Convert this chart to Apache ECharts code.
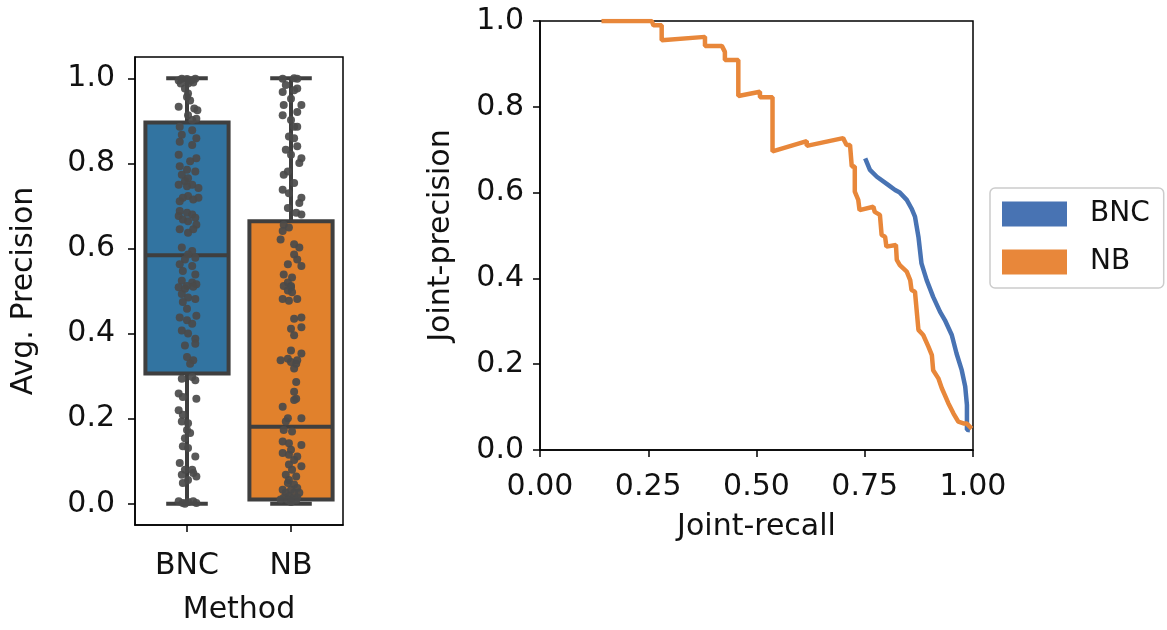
<!DOCTYPE html>
<html>
<head>
<meta charset="utf-8">
<title>BNC vs NB</title>
<script src="https://cdn.jsdelivr.net/npm/echarts@6/dist/echarts.min.js"></script>
<style>
  html, body { margin: 0; padding: 0; background: #fff; }
  #chart { width: 1167px; height: 630px; }
</style>
</head>
<body>
<div id="chart"></div>
<script>
// methods
const methods = ["BNC", "NB"];
const boxColors = ["#3274a1", "#e1812c"];
const lineColors = ["#4873b3", "#e8873a"];

// box summary per method: [min, q1, median, q3, max]
const boxStats = [
  [0.0, 0.306, 0.584, 0.896, 1.0],
  [0.0, 0.010, 0.181, 0.664, 1.0],
];

// strip points: [jitter, avg precision]
const bncPoints = [
  [-0.08, 0.995], [-0.05, 0.999], [0.0, 0.998], [0.04, 0.995], [0.08, 0.999],
  [-0.06, 0.988], [0.01, 0.988], [0.06, 0.99], [-0.02, 0.976], [0.01, 0.964],
  [0.0, 0.956], [0.03, 0.948], [-0.08, 0.933], [0.07, 0.929], [0.1, 0.925],
  [0.01, 0.913], [0.09, 0.905], [0.05, 0.902], [-0.07, 0.886], [0.05, 0.878],
  [-0.05, 0.867], [0.09, 0.859], [-0.07, 0.851], [0.05, 0.843], [-0.08, 0.82],
  [0.09, 0.812], [0.03, 0.805], [-0.07, 0.793], [0.0, 0.785], [-0.05, 0.773],
  [0.08, 0.781], [0.01, 0.765], [-0.02, 0.758], [-0.08, 0.75], [0.05, 0.75],
  [0.0, 0.746], [0.11, 0.742], [0.01, 0.723], [-0.04, 0.719], [0.06, 0.715],
  [-0.07, 0.711], [0.11, 0.719], [-0.07, 0.688], [0.0, 0.684], [-0.08, 0.676],
  [0.05, 0.68], [-0.04, 0.668], [0.08, 0.672], [0.01, 0.664], [0.09, 0.656],
  [-0.07, 0.645], [0.06, 0.645], [0.01, 0.637], [-0.05, 0.602], [0.05, 0.594],
  [0.01, 0.586], [-0.02, 0.574], [0.08, 0.578], [-0.07, 0.563], [0.05, 0.559],
  [-0.04, 0.547], [0.08, 0.539], [-0.05, 0.524], [0.05, 0.52], [0.0, 0.512],
  [0.09, 0.516], [-0.08, 0.509], [-0.02, 0.505], [0.06, 0.51], [-0.05, 0.493],
  [0.01, 0.485], [0.08, 0.481], [-0.04, 0.474], [0.0, 0.458], [0.09, 0.442],
  [-0.07, 0.438], [0.0, 0.431], [0.05, 0.423], [-0.05, 0.407], [0.01, 0.4],
  [0.08, 0.388], [-0.02, 0.372], [0.08, 0.376], [0.0, 0.345], [0.06, 0.337],
  [0.03, 0.329], [-0.05, 0.294], [0.05, 0.298], [0.08, 0.29], [-0.08, 0.259],
  [-0.04, 0.251], [0.09, 0.247], [-0.08, 0.22], [-0.04, 0.209], [-0.05, 0.193],
  [0.01, 0.189], [0.0, 0.173], [0.03, 0.166], [-0.02, 0.154], [-0.04, 0.135],
  [0.01, 0.131], [0.08, 0.111], [-0.07, 0.096], [-0.02, 0.08], [0.05, 0.08],
  [-0.05, 0.068], [0.06, 0.072], [0.09, 0.064], [0.01, 0.056], [-0.04, 0.049],
  [-0.08, 0.006], [-0.04, 0.002], [0.01, 0.004], [0.06, 0.006], [0.09, 0.002],
  [-0.02, 0.0],
];

const nbPoints = [
  [-0.08, 0.999], [0.03, 1.0], [0.06, 0.999], [-0.05, 0.984], [-0.08, 0.968],
  [0.03, 0.972], [0.06, 0.976], [0.0, 0.952], [-0.07, 0.937], [0.1, 0.937],
  [-0.08, 0.913], [0.06, 0.921], [0.0, 0.902], [0.03, 0.886], [0.06, 0.886],
  [-0.02, 0.863], [0.03, 0.859], [-0.05, 0.832], [0.06, 0.84], [0.0, 0.82],
  [0.1, 0.812], [0.08, 0.801], [-0.03, 0.781], [-0.07, 0.773], [0.03, 0.754],
  [-0.08, 0.738], [-0.02, 0.73], [0.1, 0.719], [0.08, 0.707], [-0.03, 0.695],
  [0.05, 0.684], [0.1, 0.68], [-0.07, 0.656], [-0.02, 0.649], [-0.08, 0.641],
  [-0.1, 0.621], [0.03, 0.61], [0.08, 0.602], [0.03, 0.586], [0.06, 0.574],
  [0.1, 0.559], [-0.03, 0.563], [-0.07, 0.539], [0.01, 0.532], [-0.03, 0.52],
  [0.0, 0.512], [-0.07, 0.512], [0.0, 0.509], [-0.03, 0.501], [0.01, 0.497],
  [-0.08, 0.481], [-0.02, 0.477], [0.06, 0.481], [0.03, 0.435], [0.1, 0.438],
  [0.0, 0.411], [0.1, 0.415], [0.03, 0.396], [0.0, 0.36], [0.1, 0.353],
  [-0.03, 0.341], [-0.1, 0.337], [0.0, 0.333], [0.05, 0.329], [0.06, 0.337],
  [0.03, 0.318], [0.05, 0.286], [0.03, 0.263], [0.05, 0.247], [0.03, 0.244],
  [-0.08, 0.228], [-0.03, 0.201], [-0.05, 0.193], [0.1, 0.201], [-0.07, 0.173],
  [0.01, 0.17], [-0.08, 0.146], [-0.02, 0.142], [0.1, 0.138], [0.0, 0.127],
  [-0.08, 0.119], [-0.02, 0.115], [0.06, 0.111], [0.03, 0.103], [-0.02, 0.092],
  [0.1, 0.088], [0.01, 0.08], [-0.05, 0.068], [0.05, 0.064], [-0.02, 0.056],
  [-0.03, 0.049], [0.03, 0.045], [0.06, 0.037], [-0.08, 0.033], [0.0, 0.033],
  [-0.05, 0.026], [0.03, 0.026], [0.08, 0.026], [-0.02, 0.018], [-0.07, 0.014],
  [0.01, 0.012], [0.06, 0.014], [-0.1, 0.01], [-0.03, 0.009], [0.05, 0.009],
  [0.0, 0.004],
];

// precision-recall curves: [joint recall, joint precision]
const bncCurve = [
  [0.751, 0.68], [0.762, 0.653], [0.778, 0.637], [0.804, 0.618], [0.82, 0.606],
  [0.831, 0.6], [0.847, 0.583], [0.858, 0.563], [0.866, 0.544], [0.874, 0.497],
  [0.881, 0.435], [0.893, 0.396], [0.908, 0.357], [0.924, 0.322], [0.935, 0.303],
  [0.951, 0.268], [0.962, 0.225], [0.974, 0.186], [0.982, 0.148], [0.986, 0.105],
  [0.986, 0.047], [0.993, 0.046],
];

const nbCurve = [
  [0.142, 1.0], [0.258, 1.0], [0.262, 0.99], [0.281, 0.99], [0.281, 0.955],
  [0.381, 0.963], [0.381, 0.942], [0.42, 0.942], [0.427, 0.928], [0.427, 0.909],
  [0.458, 0.909], [0.458, 0.825], [0.508, 0.835], [0.508, 0.822], [0.537, 0.822],
  [0.537, 0.696], [0.616, 0.72], [0.616, 0.709], [0.7, 0.727], [0.708, 0.711],
  [0.716, 0.711], [0.72, 0.661], [0.727, 0.661], [0.727, 0.602], [0.735, 0.583],
  [0.738, 0.559], [0.77, 0.567], [0.773, 0.555], [0.785, 0.548], [0.789, 0.501],
  [0.797, 0.497], [0.8, 0.474], [0.822, 0.478], [0.824, 0.443], [0.831, 0.431],
  [0.847, 0.416], [0.855, 0.396], [0.858, 0.373], [0.866, 0.369], [0.874, 0.28],
  [0.885, 0.268], [0.897, 0.241], [0.905, 0.221], [0.908, 0.186], [0.92, 0.167],
  [0.928, 0.144], [0.935, 0.128], [0.943, 0.109], [0.955, 0.085], [0.966, 0.066],
  [0.978, 0.062], [0.985, 0.062], [0.997, 0.05],
];

const leftTicks = [0, 0.2, 0.4, 0.6, 0.8, 1.0];

const font = "DejaVu Sans";
const edge = "#3f3f3f";

const axisText = { color: "#111", fontSize: 30, fontFamily: font };
const spine = { show: true, onZero: false, lineStyle: { color: "#000", width: 1.5 } };
const ticks = { show: true, inside: false, length: 7, lineStyle: { color: "#000", width: 1.5 } };

const boxData = boxStats.map((s, i) => [i, ...s]);

function renderBox(params, api) {
  const i = api.value(0);
  const half = 0.4;
  const cap = 0.2;
  const topLeft = api.coord([i - half, api.value(4)]);
  const botRight = api.coord([i + half, api.value(2)]);
  const medL = api.coord([i - half, api.value(3)]);
  const medR = api.coord([i + half, api.value(3)]);
  const top = api.coord([i, api.value(5)]);
  const bot = api.coord([i, api.value(1)]);
  const capTL = api.coord([i - cap, api.value(5)]);
  const capTR = api.coord([i + cap, api.value(5)]);
  const capBL = api.coord([i - cap, api.value(1)]);
  const capBR = api.coord([i + cap, api.value(1)]);
  const stroke = { stroke: edge, lineWidth: 4 };
  return {
    type: "group",
    children: [
      { type: "line", shape: { x1: top[0], y1: top[1], x2: top[0], y2: topLeft[1] }, style: stroke },
      { type: "line", shape: { x1: bot[0], y1: botRight[1], x2: bot[0], y2: bot[1] }, style: stroke },
      { type: "line", shape: { x1: capTL[0], y1: capTL[1], x2: capTR[0], y2: capTR[1] }, style: stroke },
      { type: "line", shape: { x1: capBL[0], y1: capBL[1], x2: capBR[0], y2: capBR[1] }, style: stroke },
      {
        type: "rect",
        shape: {
          x: topLeft[0], y: topLeft[1],
          width: botRight[0] - topLeft[0], height: botRight[1] - topLeft[1],
        },
        style: { fill: boxColors[i], stroke: edge, lineWidth: 4 },
      },
      { type: "line", shape: { x1: medL[0], y1: medL[1], x2: medR[0], y2: medR[1] }, style: stroke },
    ],
  };
}

const chart = echarts.init(document.getElementById("chart"));
chart.setOption({
  animation: false,
  backgroundColor: "#fff",
  grid: [
    { left: 135, top: 57, width: 208, height: 470, show: true, borderColor: "#000", borderWidth: 1.5 },
    { left: 540, top: 21, width: 433, height: 429, show: true, borderColor: "#000", borderWidth: 1.5 },
  ],
  xAxis: [
    {
      gridIndex: 0,
      type: "value",
      min: -0.5,
      max: 1.5,
      name: "Method",
      nameLocation: "middle",
      nameGap: 70,
      nameTextStyle: axisText,
      axisLine: spine,
      axisTick: Object.assign({}, ticks, { customValues: [0, 1] }),
      axisLabel: Object.assign({}, axisText, {
        margin: 26,
        customValues: [0, 1],
        formatter: (v) => methods[Math.round(v)],
      }),
      splitLine: { show: false },
    },
    {
      gridIndex: 1,
      type: "value",
      min: 0,
      max: 1,
      interval: 0.25,
      name: "Joint-recall",
      nameLocation: "middle",
      nameGap: 62,
      nameTextStyle: axisText,
      axisLine: spine,
      axisTick: ticks,
      axisLabel: Object.assign({}, axisText, { margin: 22, formatter: (v) => v.toFixed(2) }),
      splitLine: { show: false },
    },
  ],
  yAxis: [
    {
      gridIndex: 0,
      type: "value",
      min: -0.05,
      max: 1.05,
      name: "Avg. Precision",
      nameLocation: "middle",
      nameGap: 96,
      nameTextStyle: axisText,
      axisLine: spine,
      axisTick: Object.assign({}, ticks, { customValues: leftTicks }),
      axisLabel: Object.assign({}, axisText, {
        margin: 20,
        customValues: leftTicks,
        formatter: (v) => v.toFixed(1),
      }),
      splitLine: { show: false },
    },
    {
      gridIndex: 1,
      type: "value",
      min: 0,
      max: 1,
      interval: 0.2,
      name: "Joint-precision",
      nameLocation: "middle",
      nameGap: 84,
      nameTextStyle: axisText,
      axisLine: spine,
      axisTick: ticks,
      axisLabel: Object.assign({}, axisText, { margin: 16, formatter: (v) => v.toFixed(1) }),
      splitLine: { show: false },
    },
  ],
  legend: {
    data: methods,
    orient: "vertical",
    left: 990,
    top: 188,
    padding: [12, 14, 12, 12],
    itemGap: 20,
    itemWidth: 65,
    itemHeight: 25,
    icon: "rect",
    borderColor: "#cccccc",
    borderWidth: 1.5,
    borderRadius: 5,
    textStyle: { color: "#111", fontSize: 28, fontFamily: font, padding: [0, 0, 0, 18] },
  },
  series: [
    {
      type: "custom",
      xAxisIndex: 0,
      yAxisIndex: 0,
      renderItem: renderBox,
      data: boxData,
      z: 2,
    },
    {
      type: "scatter",
      xAxisIndex: 0,
      yAxisIndex: 0,
      data: bncPoints.map((p) => [0 + p[0], p[1]]),
      symbolSize: 8,
      itemStyle: { color: "#4a4a4a", opacity: 0.92 },
      z: 3,
    },
    {
      type: "scatter",
      xAxisIndex: 0,
      yAxisIndex: 0,
      data: nbPoints.map((p) => [1 + p[0], p[1]]),
      symbolSize: 8,
      itemStyle: { color: "#4a4a4a", opacity: 0.92 },
      z: 3,
    },
    {
      name: "BNC",
      type: "line",
      xAxisIndex: 1,
      yAxisIndex: 1,
      data: bncCurve,
      showSymbol: false,
      lineStyle: { color: lineColors[0], width: 4.5 },
      itemStyle: { color: lineColors[0] },
    },
    {
      name: "NB",
      type: "line",
      xAxisIndex: 1,
      yAxisIndex: 1,
      data: nbCurve,
      showSymbol: false,
      lineStyle: { color: lineColors[1], width: 4.5 },
      itemStyle: { color: lineColors[1] },
    },
  ],
});
</script>
</body>
</html>
